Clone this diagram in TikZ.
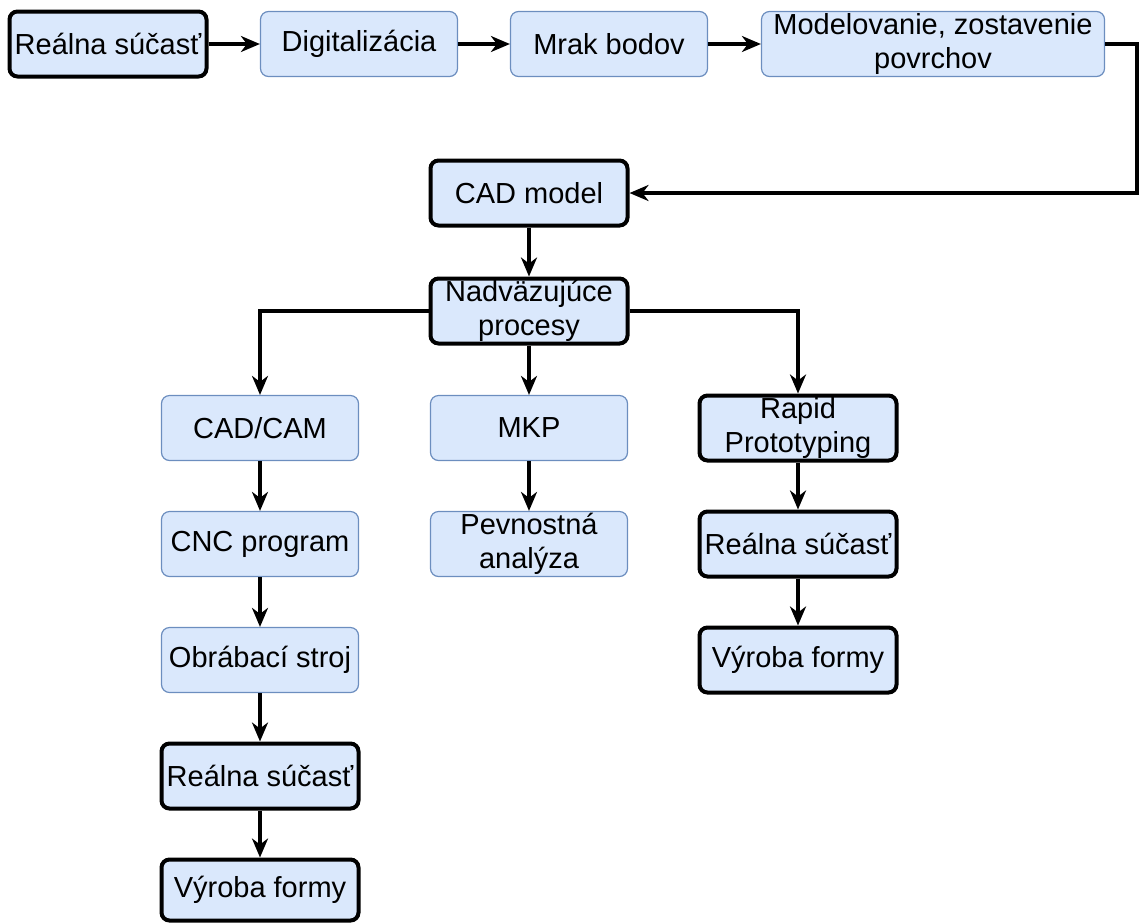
\documentclass[tikz,border=0pt]{standalone}
\usepackage{fontspec}
\setmainfont{Liberation Sans}
\usetikzlibrary{arrows.meta}
\definecolor{boxfill}{HTML}{DAE8FC}
\definecolor{boxline}{HTML}{6C8EBF}
\tikzset{
  box/.style={rectangle, rounded corners=8pt, fill=boxfill, draw=boxline, line width=1.2pt,
    minimum width=197pt, minimum height=65pt, inner sep=1pt, align=center,
    font=\fontsize{29}{34}\selectfont},
  boldbox/.style={box, draw=black, line width=4pt},
  flow/.style={line width=3.4pt, -{Stealth[length=19pt,width=16pt,inset=6pt]}},
}
\begin{document}
\begin{tikzpicture}[x=1pt,y=-1pt]
      \useasboundingbox (0,0) rectangle (1139,922);
      % top row
      \node[boldbox](T1) at (108,44) {Reálna súčasť};
      \foreach \n/\x/\t in{T2/359/Digitalizácia, T3/609/Mrak bodov}{
        \node[box](\n) at (\x,44) {\t};
      }
      \node[box, minimum width=343pt](T4) at (933,44) {Modelovanie, zostavenie\\povrchov};
      \foreach \a/\b in{T1/T2, T2/T3, T3/T4}{
        \draw[flow](\a)--(\b);
      }
      % middle
      \node[boldbox](CAD) at (529,193) {CAD model};
      \node[boldbox](NP) at (529,311) {Nadväzujúce\\procesy};
      \draw[flow](T4.east)--++(32,0)|-(CAD);
      \draw[flow](CAD)--(NP);
      % branches
      \node[box](L1) at (260,428) {CAD/CAM};
      \node[box](L2) at (260,544) {CNC program};
      \node[box](L3) at (260,660) {Obrábací stroj};
      \node[boldbox](L4) at (260,776) {Reálna súčasť};
      \node[boldbox, minimum height=61pt](L5) at (260,890) {Výroba formy};
      \node[box](M1) at (529,428) {MKP};
      \node[box](M2) at (529,544) {Pevnostná\\analýza};
      \node[boldbox](R1) at (798,428) {Rapid\\Prototyping};
      \node[boldbox](R2) at (798,544) {Reálna súčasť};
      \node[boldbox](R3) at (798,660) {Výroba formy};
      \draw[flow](NP)-|(L1);
      \draw[flow](NP)--(M1);
      \draw[flow](NP)-|(R1);
      \foreach \a/\b in{L1/L2, L2/L3, L3/L4, L4/L5, M1/M2, R1/R2, R2/R3}{
        \draw[flow](\a)--(\b);
      }
    \end{tikzpicture}
\end{document}
